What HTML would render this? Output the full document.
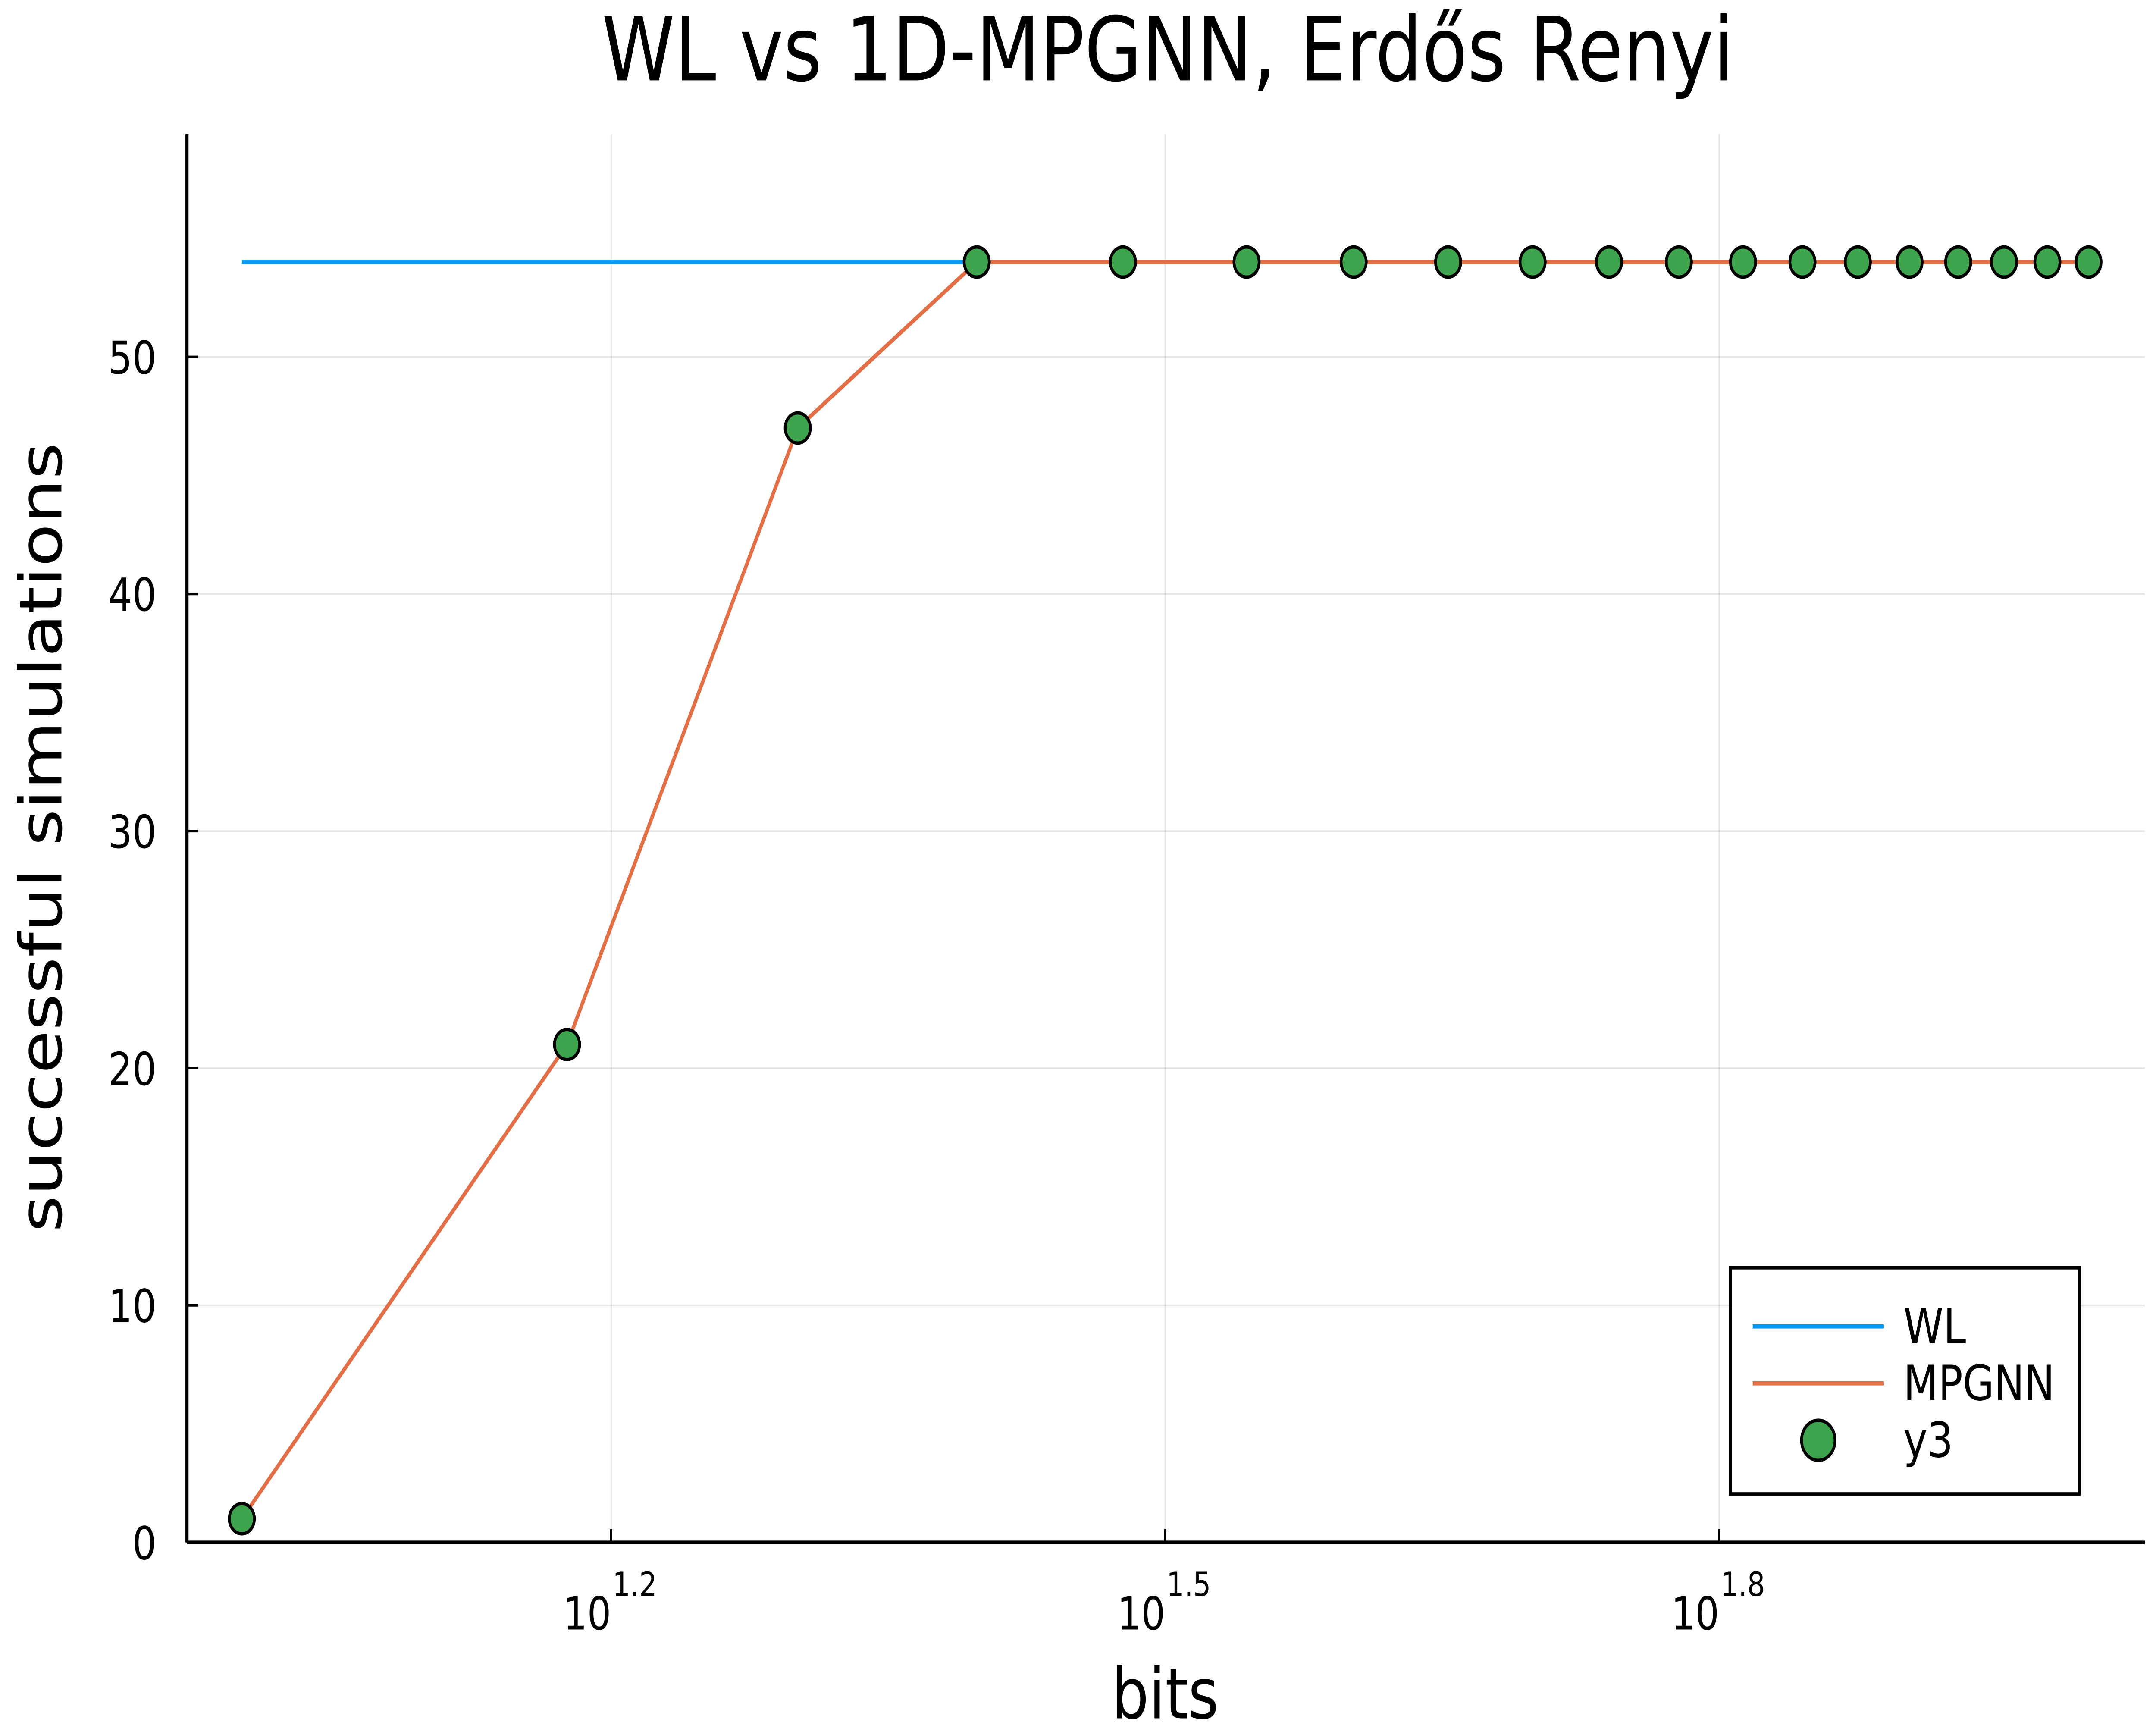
<!DOCTYPE html>
<html><head><meta charset="utf-8"><style>
html,body{margin:0;padding:0;background:#fff;width:100%;height:100%;overflow:hidden;}
svg{display:block;width:100vw;height:100vh;font-family:"DejaVu Sans","Liberation Sans",sans-serif;}
</style></head><body>
<svg id="chart" viewBox="0 0 1545 1030" preserveAspectRatio="none" xmlns="http://www.w3.org/2000/svg">
<rect width="1545" height="1030" fill="#fff"/>
<text x="837" y="48" font-size="53" text-anchor="middle">WL vs 1D-MPGNN, Erdős Renyi</text>
<g id="grid"></g>
<g id="axes"></g>
<g id="series"></g>
<text x="835" y="1026" font-size="42" text-anchor="middle">bits</text>
<text transform="translate(44,500) rotate(-90)" font-size="42" text-anchor="middle">successful simulations</text>
<g>
<rect x="1240" y="757" width="250" height="135" fill="#fff" stroke="#000" stroke-width="2"/>
<line x1="1256" y1="792" x2="1350" y2="792" stroke="#009af9" stroke-width="2.5"/>
<text x="1364" y="802" font-size="29">WL</text>
<line x1="1256" y1="826" x2="1350" y2="826" stroke="#e26f46" stroke-width="2.5"/>
<text x="1364" y="836" font-size="29">MPGNN</text>
<circle cx="1303" cy="860" r="12" fill="#3ea44e" stroke="#000" stroke-width="2"/>
<text x="1364" y="870" font-size="29">y3</text>
</g>
</svg>
<script>
const xValues = [10,15,20,25,30,35,40,45,50,55,60,65,70,75,80,85,90,95,100];
const wlValues = [54,54,54,54,54,54,54,54,54,54,54,54,54,54,54,54,54,54,54];
const mpgnnValues = [1,21,47,54,54,54,54,54,54,54,54,54,54,54,54,54,54,54,54];
const xTickExps = ["1.2","1.5","1.8"];
const yTicks = [0,10,20,30,40,50];

const L=134,R=1537,T=80,B=921;
const lxMin=0.9703,lxMax=2.0305,yMin=0,yMax=59.4;
const sx=v=>L+(Math.log10(v)-lxMin)/(lxMax-lxMin)*(R-L);
const sy=v=>B-(v-yMin)/(yMax-yMin)*(B-T);
const NS="http://www.w3.org/2000/svg";
function mk(tag,attrs,parent){const e=document.createElementNS(NS,tag);for(const k in attrs)e.setAttribute(k,attrs[k]);parent.appendChild(e);return e;}
const grid=document.getElementById('grid'),axes=document.getElementById('axes'),series=document.getElementById('series');

xTickExps.forEach(ex=>{
  const x=sx(Math.pow(10,parseFloat(ex)));
  const g=mk('line',{x1:x,x2:x,y1:T,y2:B,stroke:'#000','stroke-opacity':0.1,'stroke-width':1},grid);
  
  
  const t=mk('line',{x1:x,x2:x,y1:B,y2:B-8,stroke:'#000','stroke-width':1.5},axes);
  
  
  const tx=mk('text',{x:x,y:973,'font-size':27,'text-anchor':'end'},axes);
  
  
  tx.textContent='10';
  const sp=mk('text',{x:x+1,y:953,'font-size':20,'text-anchor':'start'},axes);
  
  
  sp.textContent=ex;
});
yTicks.forEach(v=>{
  const y=sy(v);
  const g=mk('line',{x1:L,x2:R,y1:y,y2:y,stroke:'#000','stroke-opacity':0.1,'stroke-width':1},grid);
  
  
  const t=mk('line',{x1:L,x2:L+8,y1:y,y2:y,stroke:'#000','stroke-width':1.5},axes);
  
  
  const tx=mk('text',{x:112,y:y+10,'font-size':27,'text-anchor':'end'},axes);
  
  
  tx.textContent=v;
});
const xa=mk('line',{x1:L,x2:R,y1:B,y2:B,stroke:'#000','stroke-width':2.2},axes);


const ya=mk('line',{x1:L,x2:L,y1:T,y2:B,stroke:'#000','stroke-width':2.2},axes);



const pts=(ys)=>xValues.map((x,i)=>sx(x)+','+sy(ys[i])).join(' ');
const wl=mk('polyline',{points:pts(wlValues),fill:'none',stroke:'#009af9','stroke-width':2.5},series);


const mp=mk('polyline',{points:pts(mpgnnValues),fill:'none',stroke:'#e26f46','stroke-width':2.5},series);


xValues.forEach((x,i)=>{
  const c=mk('circle',{cx:sx(x),cy:sy(mpgnnValues[i]),r:9,fill:'#3ea44e',stroke:'#000','stroke-width':2},series);
  
  
});
</script>
</body></html>
